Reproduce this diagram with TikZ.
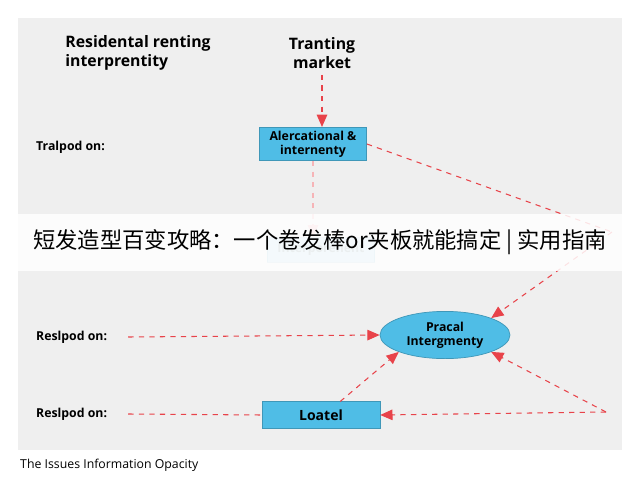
\documentclass[tikz,border=0pt]{standalone}
\usepackage{fontspec}
\setmainfont{Open Sans}
\newfontfamily\cjk{Noto Sans CJK SC}
\usetikzlibrary{positioning,shapes.geometric,arrows.meta}
\definecolor{boxblue}{HTML}{4FBDE6}
\definecolor{arrred}{HTML}{E8434A}
\definecolor{panel}{HTML}{EFEFEF}
\tikzset{
	box/.style={draw=boxblue!80!black,fill=boxblue,font=\scriptsize\bfseries,align=center,inner sep=2pt,line width=0.4pt},
	lbl/.style={font=\scriptsize\bfseries,anchor=west},
	redline/.style={arrred,dashed,line width=0.6pt},
	arr/.style={redline,-{Triangle[length=7pt,width=6pt]}}
}
\begin{document}
\begin{tikzpicture}[x=0.02cm,y=-0.02cm]
	\useasboundingbox (0,0) rectangle (640,480);
	\fill[white] (0,0) rectangle (640,480);
	\fill[panel] (18,18) rectangle (622,450);
	% titles
	\node[font=\small\bfseries,align=left] (title1) at (138,53) {Residental renting\\interprentity};
	\node[font=\small\bfseries,align=center] (title2) at (322,53) {Tranting\\market};
	% nodes
	\node[box,minimum width=61pt,minimum height=18pt] (alerc) at (313,144) {Alercational \&\\internenty};
	\node[box,opacity=0.35,minimum width=61pt,minimum height=14pt] (inter) at (321,250) {Interporenent};
	\node[ellipse,box,minimum width=74pt,minimum height=25pt] (pracal) at (445,335) {Pracal\\Intergmenty};
	\node[box,minimum width=67pt,minimum height=15pt,font=\footnotesize\bfseries] (loatel) at (321,415) {Loatel};
	% labels
	\node[lbl] (trl) at (30,147) {Tralpod on:};
	\node[lbl] (rs1) at (30,337) {Reslpod on:};
	\node[lbl] (rs2) at (30,414) {Reslpod on:};
	\coordinate (corner1) at (612,232);
	\coordinate (corner2) at (606,412);
	% connectors
	\draw[arr] (title2) -- (title2 |- alerc.north);
	\draw[arr,arrred!40] (alerc) -- (alerc |- inter.north);
	\draw[redline] (alerc.east) -- (corner1);
	\draw[arr] (corner1) -- (pracal.north east);
	\draw[arr] (rs1.east) ++(15,0) -- (pracal.west);
	\draw[redline] (rs2.east) ++(15,0) -- (loatel.west);
	\draw[arr] (loatel.north east) ++(-40,0) -- (pracal.south west);
	\draw[arr] (corner2) -- (pracal.south east);
	\draw[arr] (corner2) -- (loatel.east);
	% banner
	\fill[white,opacity=0.85] (0,214) rectangle (640,271);
	\node[font=\cjk\fontsize{12.7}{16}\selectfont] (banner) at (320,242) {短发造型百变攻略：一个卷发棒or夹板就能搞定 | 实用指南};
	\node[font=\scriptsize,anchor=west] (caption) at (14,465) {The Issues Information Opacity};
\end{tikzpicture}
\end{document}
